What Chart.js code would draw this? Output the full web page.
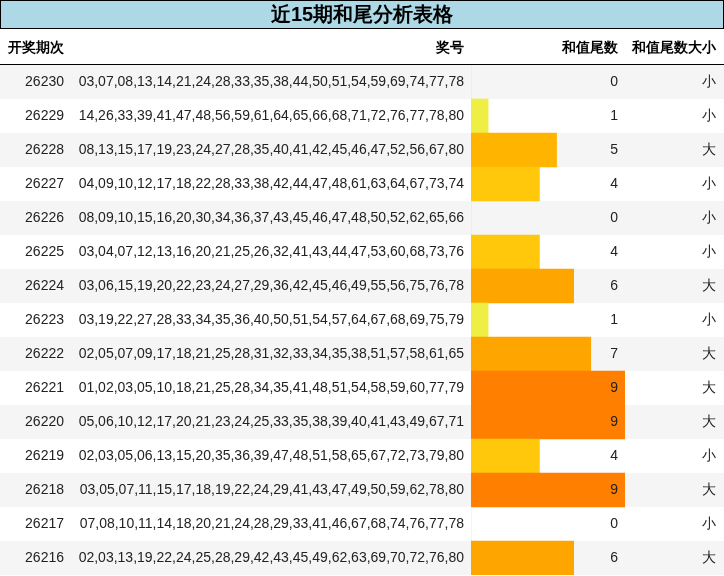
<!DOCTYPE html>
<html>
<head>
<meta charset="utf-8">
<script src="https://cdn.jsdelivr.net/npm/chart.js@4/dist/chart.umd.min.js"></script>
<style>body{margin:0;background:#fff}</style>
</head>
<body>
<canvas id="c" width="724" height="576"></canvas>
<script>
// Table data
const periods = ['26230','26229','26228','26227','26226','26225','26224','26223','26222','26221','26220','26219','26218','26217','26216'];
const numbers = [
  '03,07,08,13,14,21,24,28,33,35,38,44,50,51,54,59,69,74,77,78',
  '14,26,33,39,41,47,48,56,59,61,64,65,66,68,71,72,76,77,78,80',
  '08,13,15,17,19,23,24,27,28,35,40,41,42,45,46,47,52,56,67,80',
  '04,09,10,12,17,18,22,28,33,38,42,44,47,48,61,63,64,67,73,74',
  '08,09,10,15,16,20,30,34,36,37,43,45,46,47,48,50,52,62,65,66',
  '03,04,07,12,13,16,20,21,25,26,32,41,43,44,47,53,60,68,73,76',
  '03,06,15,19,20,22,23,24,27,29,36,42,45,46,49,55,56,75,76,78',
  '03,19,22,27,28,33,34,35,36,40,50,51,54,57,64,67,68,69,75,79',
  '02,05,07,09,17,18,21,25,28,31,32,33,34,35,38,51,57,58,61,65',
  '01,02,03,05,10,18,21,25,28,34,35,41,48,51,54,58,59,60,77,79',
  '05,06,10,12,17,20,21,23,24,25,33,35,38,39,40,41,43,49,67,71',
  '02,03,05,06,13,15,20,35,36,39,47,48,51,58,65,67,72,73,79,80',
  '03,05,07,11,15,17,18,19,22,24,29,41,43,47,49,50,59,62,78,80',
  '07,08,10,11,14,18,20,21,24,28,29,33,41,46,67,68,74,76,77,78',
  '02,03,13,19,22,24,25,28,29,42,43,45,49,62,63,69,70,72,76,80'
];
const tails = [0,1,5,4,0,4,6,1,7,9,9,4,9,0,6];
const sizes = ['小','小','大','小','小','小','大','小','大','大','大','小','大','小','大'];
const headers = ['开奖期次','奖号','和值尾数','和值尾数大小'];
const title = '近15期和尾分析表格';

function tailColor(v) {
  if (v <= 1) return '#eeee44';
  if (v <= 4) return '#ffc80a';
  if (v <= 5) return '#ffb400';
  if (v <= 7) return '#ffa500';
  return '#ff8000';
}

const FONT = '"Liberation Sans", Arial, sans-serif';

const tablePlugin = {
  id: 'table',
  beforeDatasetsDraw(chart) {
    const ctx = chart.ctx, y = chart.scales.y;
    ctx.save();
    ctx.fillStyle = '#fff';
    ctx.fillRect(0, 0, 724, 576);
    // title
    ctx.fillStyle = '#add8e6';
    ctx.fillRect(0, 0, 724, 28);
    ctx.strokeStyle = '#000';
    ctx.lineWidth = 1;
    ctx.strokeRect(0.5, 0.5, 723, 28);
    ctx.fillStyle = '#000';
    ctx.font = 'bold 20px ' + FONT;
    ctx.textAlign = 'center';
    ctx.textBaseline = 'middle';
    ctx.fillText(title, 362, 15);
    // header
    ctx.font = 'bold 14px ' + FONT;
    ctx.textAlign = 'left';
    ctx.fillText(headers[0], 8, 48);
    ctx.textAlign = 'right';
    ctx.fillText(headers[1], 464, 48);
    ctx.fillText(headers[2], 618, 48);
    ctx.fillText(headers[3], 716, 48);
    ctx.beginPath();
    ctx.moveTo(0, 64.5); ctx.lineTo(724, 64.5);
    ctx.stroke();
    // stripes
    const h = (y.bottom - y.top) / periods.length;
    periods.forEach((p, i) => {
      if (i % 2 === 0) {
        ctx.fillStyle = '#f5f5f5';
        ctx.fillRect(0, y.getPixelForValue(i) - h / 2, 724, h);
      }
    });
    ctx.restore();
  },
  afterDatasetsDraw(chart) {
    const ctx = chart.ctx, y = chart.scales.y;
    ctx.save();
    ctx.fillStyle = '#222';
    ctx.font = '14px ' + FONT;
    ctx.textBaseline = 'middle';
    ctx.textAlign = 'right';
    periods.forEach((p, i) => {
      const yy = y.getPixelForValue(i);
      ctx.fillText(p, 64, yy);
      ctx.fillText(numbers[i], 464, yy);
      ctx.fillText(String(tails[i]), 618, yy);
      ctx.fillText(sizes[i], 716, yy);
    });
    ctx.restore();
  }
};

new Chart(document.getElementById('c'), {
  type: 'bar',
  data: {
    labels: periods,
    datasets: [{
      data: tails,
      backgroundColor: tails.map(tailColor),
      barPercentage: 1,
      categoryPercentage: 1
    }]
  },
  options: {
    indexAxis: 'y',
    responsive: false,
    animation: false,
    layout: { padding: { left: 471, right: 99, top: 65, bottom: 1 } },
    scales: {
      x: { min: 0, max: 9, display: false },
      y: { display: false }
    },
    plugins: { legend: { display: false }, tooltip: { enabled: false } }
  },
  plugins: [tablePlugin]
});
</script>
</body>
</html>
